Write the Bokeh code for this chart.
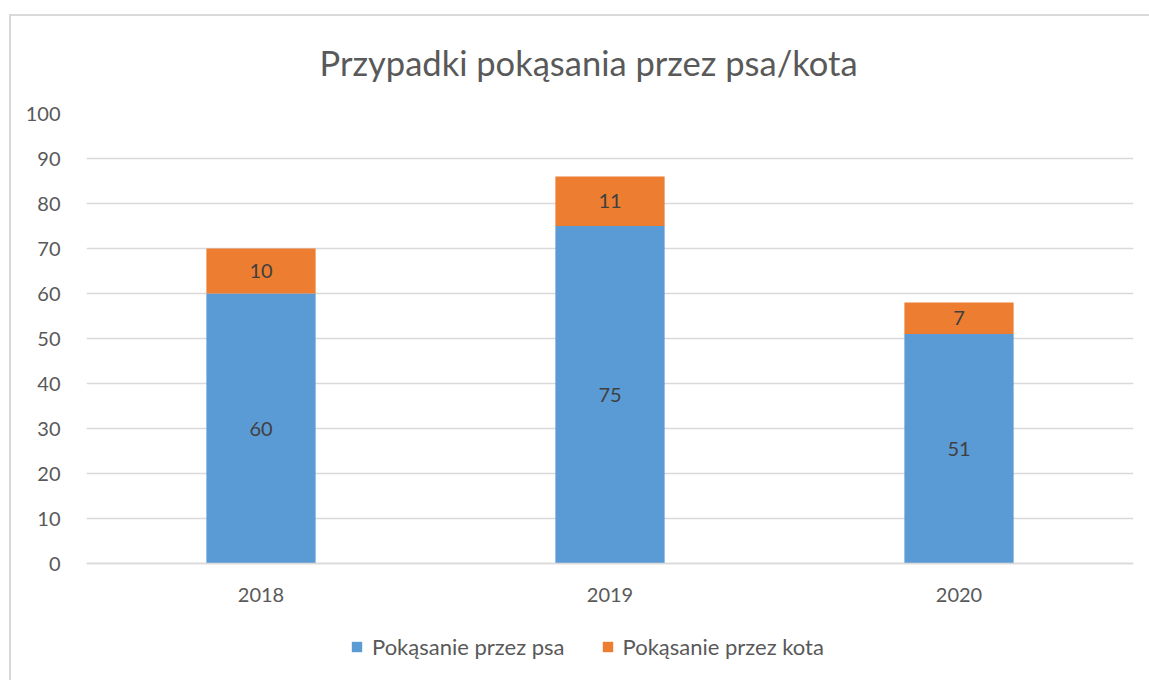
from bokeh.plotting import figure
from bokeh.models import ColumnDataSource, LabelSet, Legend, LegendItem, FixedTicker, Range1d
from bokeh.core.properties import value
from bokeh.embed import file_html
from bokeh.resources import INLINE

years = ["2018", "2019", "2020"]
dog = [60, 75, 51]
cat = [10, 11, 7]
series_names = ["Pokąsanie przez psa", "Pokąsanie przez kota"]
colors = ["#5B9BD5", "#ED7D31"]
title_text = "Przypadki pokąsania przez psa/kota"
y_ticks = [0, 10, 20, 30, 40, 50, 60, 70, 80, 90, 100]

FONT = "Lato"

source = ColumnDataSource(dict(
    year=years, dog=dog, cat=cat,
    dog_mid=[d / 2 for d in dog],
    cat_mid=[d + c / 2 for d, c in zip(dog, cat)],
    dog_lbl=[str(d) for d in dog],
    cat_lbl=[str(c) for c in cat],
))

# frame spans down to the bottom of the figure so the legend can sit inside it
p = figure(x_range=years, y_range=Range1d(-26, 100), width=1149, height=680,
           output_backend="svg", toolbar_location=None,
           min_border_left=86, min_border_right=16, min_border_top=113, min_border_bottom=0)
p.border_fill_color = None
p.background_fill_color = None
p.styles = {"background": "linear-gradient(#d9d9d9,#d9d9d9) 9px 14px / 100% 2px no-repeat, "
                          "linear-gradient(#d9d9d9,#d9d9d9) 9px 14px / 2px 100% no-repeat"}

p.title.text = title_text
p.title.align = "left"
p.title.offset = 233
p.title.text_font = FONT
p.title.text_font_size = "34.5px"
p.title.text_font_style = "normal"
p.title.text_color = "#595959"
p.title.standoff = 62

renderers = p.vbar_stack(["dog", "cat"], x="year", width=0.313, color=colors,
                         source=source, line_color=None)

for ycol, tcol in (("dog_mid", "dog_lbl"), ("cat_mid", "cat_lbl")):
    p.add_layout(LabelSet(x="year", y=ycol, text=tcol, source=source,
                          text_align="center", text_baseline="middle",
                          text_font=value(FONT), text_font_size=value("20px"),
                          text_color=value("#404040")))

legend = Legend(items=[LegendItem(label=series_names[0], renderers=[renderers[0]]),
                       LegendItem(label=series_names[1], renderers=[renderers[1]])],
                orientation="horizontal", location=(264, 20),
                border_line_color=None, background_fill_alpha=0,
                label_text_font=FONT, label_text_font_size="22px", label_text_color="#595959",
                glyph_width=13, glyph_height=13, label_standoff=9, spacing=36,
                label_height=20, padding=0, margin=0)
p.add_layout(legend, "center")

p.x_range.range_padding = 0
p.xaxis.fixed_location = 0
p.xaxis.axis_line_color = "#d9d9d9"
p.xaxis.axis_line_width = 1.5
p.xaxis.major_tick_line_color = None
p.xaxis.minor_tick_line_color = None
p.xaxis.major_label_text_font = FONT
p.xaxis.major_label_text_font_size = "20px"
p.xaxis.major_label_text_color = "#595959"
p.xaxis.major_label_standoff = 18

p.yaxis.ticker = FixedTicker(ticks=y_ticks)
p.yaxis.axis_line_color = None
p.yaxis.major_tick_line_color = None
p.yaxis.minor_tick_line_color = None
p.yaxis.major_label_text_font = FONT
p.yaxis.major_label_text_font_size = "20px"
p.yaxis.major_label_text_color = "#595959"
p.yaxis.major_label_standoff = 20

p.xgrid.grid_line_color = None
p.ygrid.grid_line_color = "#d9d9d9"
p.ygrid.grid_line_width = 1.5
p.outline_line_color = None

open("out.html", "w").write(file_html(p, INLINE))
